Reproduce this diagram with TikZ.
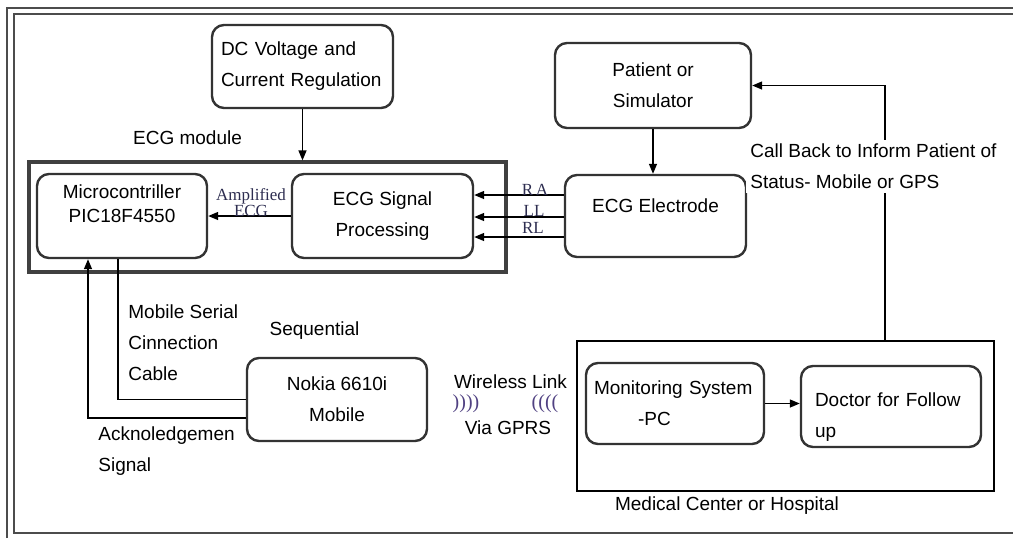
\documentclass[tikz,border=0pt]{standalone}
\usepackage{fontspec}
\setmainfont{Liberation Sans}
\newfontfamily\serifface{Liberation Serif}
\usetikzlibrary{arrows.meta}
\definecolor{lblink}{RGB}{45,45,80}
\definecolor{wavecol}{RGB}{80,65,130}
\tikzset{
  blk/.style={draw=black!80, line width=1.2pt, rounded corners=6pt, align=center,
    inner sep=0pt, font=\fontsize{9.5}{15.5}\selectfont},
  txt/.style={inner sep=0pt, font=\fontsize{9.5}{15.5}\selectfont},
  sml/.style={inner sep=0pt, text=lblink, font=\serifface\fontsize{8.5}{8}\selectfont},
  arr/.style={-{Triangle[length=5pt,width=4pt]}, line width=0.7pt},
  wire/.style={line width=0.7pt},
}
\begin{document}
\begin{tikzpicture}[x=0.5pt,y=-0.5pt]
    \useasboundingbox (0,0) rectangle (1013,538);
    % Page frame
    \draw[black!70, line width=1pt] (7,538) -- (7,8) -- (1013,8);
    \draw[black!70, line width=1pt] (1013,14) -- (14,14) -- (14,533) -- (1013,533);

    % ECG module
    \node[draw=black!75, line width=1.6pt, minimum width=238.5pt, minimum height=55pt, inner sep=0pt] (module) at (267.5,217) {};
    \node[txt] (modlbl) at (187.5,138) {ECG module};
    \node[blk, minimum width=85pt, minimum height=42pt, text depth=12pt] (micro) at (122,216) {Microcontriller\\[-3.5pt]PIC18F4550};
    \node[blk, minimum width=90.5pt, minimum height=42pt] (signal) at (382.5,216) {ECG Signal\\Processing};

    % Supply and patient side
    \node[blk, align=left, text width=81.5pt, inner xsep=4.5pt, minimum height=41.5pt] (dc) at (302.5,66.5) {DC Voltage and\\Current Regulation};
    \node[blk, minimum width=98pt, minimum height=42.5pt] (patient) at (653,85.5) {Patient or\\Simulator};
    \node[blk, minimum width=90.5pt, minimum height=41pt, text depth=10pt] (electrode) at (655.5,216) {ECG Electrode};

    % Mobile
    \node[blk, minimum width=90pt, minimum height=41.5pt] (nokia) at (337,399.5) {Nokia 6610i\\Mobile};

    % Medical center
    \node[draw, line width=0.8pt, minimum width=208.5pt, minimum height=75pt, inner sep=0pt] (medical) at (785.5,416) {};
    \node[txt] (medlbl) at (727,506) {Medical Center or Hospital};
    \node[blk, align=left, text width=81pt, inner xsep=4pt, minimum height=40.5pt] (monitor) at (675,403.5) {Monitoring System\\\hspace*{22pt}-PC};
    \node[blk, align=left, text width=76pt, inner xsep=7pt, minimum height=40.5pt, text depth=7pt] (doctor) at (891,406.5) {Doctor for Follow\\up};

    % Connectors
    \draw[arr] (dc.south) -- (dc.south |- module.north);
    \draw[arr] (signal.west) -- (micro.east);
    \node[sml, align=center] (amplbl) at (251,203) {Amplified\\ECG};
    \draw[arr] (patient.south) -- (patient.south |- electrode.north);
    \draw[arr] ([yshift=10.5pt]electrode.west) -- ([yshift=10.5pt]signal.east);
    \draw[arr] ([yshift=-0.5pt]electrode.west) -- ([yshift=-0.5pt]signal.east);
    \draw[arr] ([yshift=-10.5pt]electrode.west) -- ([yshift=-10.5pt]signal.east);
    \node[sml] (ralbl) at (535,190) {R\,A};
    \node[sml] (lllbl) at (534,211) {LL};
    \node[sml] (rllbl) at (533,228) {RL};
    \draw[arr] (monitor.east) -- (monitor.east -| doctor.west);

    % Call back
    \coordinate (cbfoot) at (885,341);
    \draw[arr] (cbfoot) |- (patient.east);
    \node[txt, anchor=west, align=left, fill=white, inner sep=2pt] (cbtxt) at (746,166.5) {Call Back to Inform Patient of\\Status- Mobile or GPS};

    % Serial cable and acknowledgement
    \draw[wire] ([xshift=-2pt]micro.south) |- (nokia.west);
    \draw[arr] ([yshift=-9.25pt]nokia.west) -| ([xshift=-17pt]micro.south);
    \node[txt, anchor=west, align=left] (seriallbl) at (128,343) {Mobile Serial\\Cinnection\\Cable};
    \node[txt] (seqlbl) at (314.5,331) {Sequential};
    \node[txt, anchor=west, align=left] (acklbl) at (98,451.5) {Acknoledgemen\\Signal};

    % Wireless link
    \node[txt] (wlbl) at (510.5,382) {Wireless Link};
    \node[inner sep=0pt, text=wavecol, font=\serifface\fontsize{10}{10}\selectfont] (wavel) at (466,404) {))))};
    \node[inner sep=0pt, text=wavecol, font=\serifface\fontsize{10}{10}\selectfont] (waver) at (545,404) {((((};
    \node[txt] (gprslbl) at (508,428) {Via GPRS};
\end{tikzpicture}
\end{document}
